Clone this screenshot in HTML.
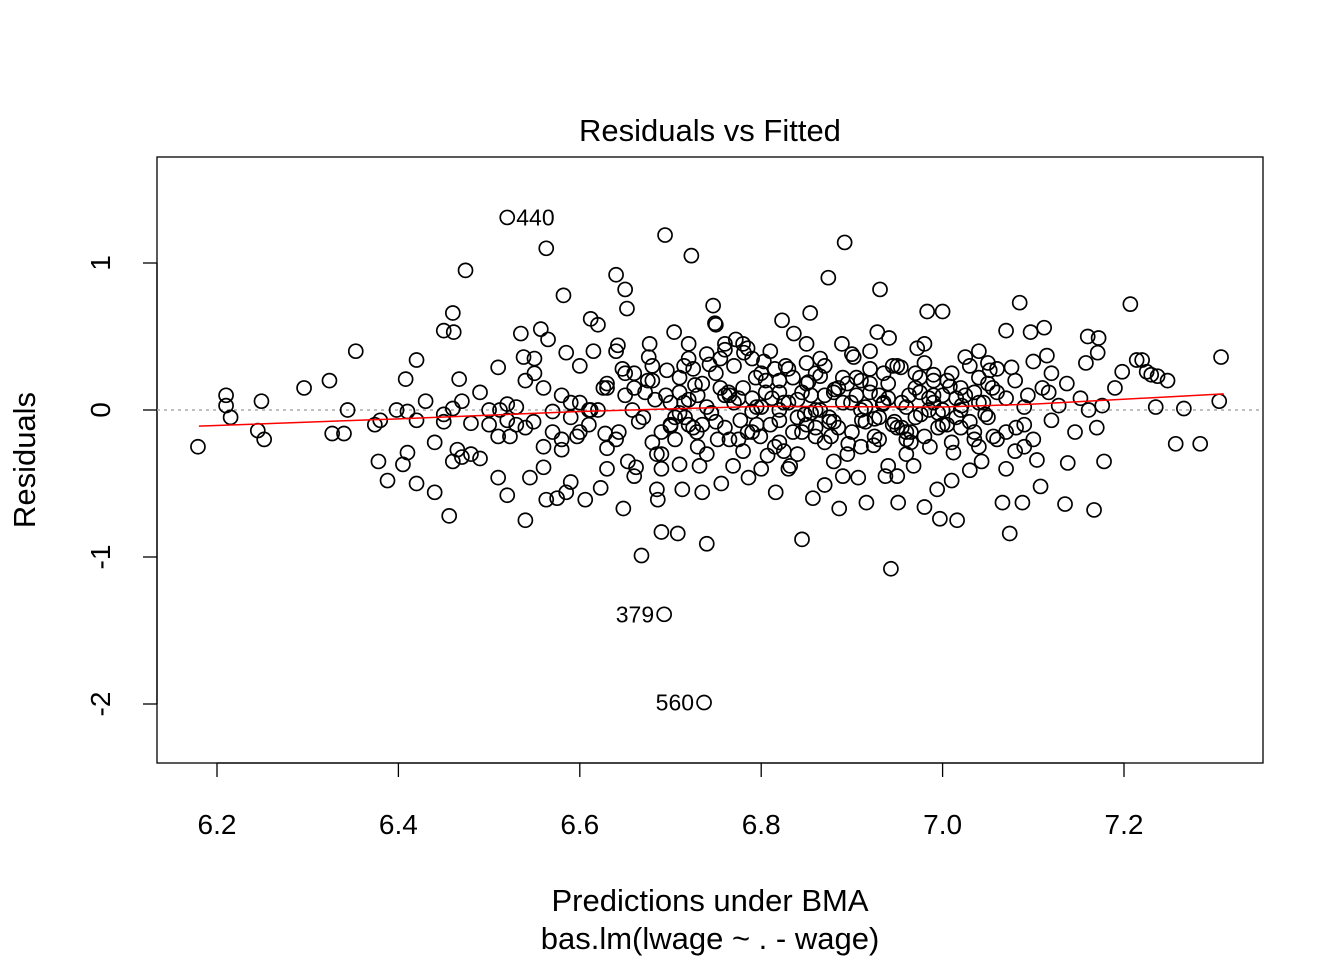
<!DOCTYPE html>
<html><head><meta charset="utf-8"><style>
html,body{margin:0;padding:0;background:#fff;}
svg{display:block;font-family:"Liberation Sans",Arial,sans-serif;}
</style></head><body>
<svg id="chart" width="1344" height="960" viewBox="0 0 1344 960">
<text x="710" y="141" font-size="31" text-anchor="middle">Residuals vs Fitted</text>
<rect x="157" y="157" width="1106" height="606" fill="none" stroke="#000" stroke-width="1.3"/>
<g id="xaxis"></g>
<g id="yaxis"></g>
<line x1="157" x2="1263" y1="410" y2="410" stroke="#aaa" stroke-width="1.5" stroke-dasharray="3,4"/>
<g id="pts"></g>
<polyline id="smooth" fill="none" stroke="#f00" stroke-width="1.5"/>
<g id="labels"></g>
<text x="710" y="911" font-size="31" text-anchor="middle">Predictions under BMA</text>
<text x="710" y="949" font-size="31" text-anchor="middle">bas.lm(lwage ~ . - wage)</text>
<text transform="translate(35,460) rotate(-90)" font-size="31" text-anchor="middle">Residuals</text>
</svg>
<script>
const xTicks=[6.2,6.4,6.6,6.8,7.0,7.2];
const xTickLabels=["6.2","6.4","6.6","6.8","7.0","7.2"];
const yTicks=[-2,-1,0,1];
const yTickLabels=["-2","-1","0","1"];
const fittedX=[6.179,6.21,6.21,6.215,6.249,6.245,6.252,6.296,6.324,6.327,6.34,6.344,6.353,6.374,6.378,6.38,6.388,6.398,6.405,6.408,6.41,6.41,6.42,6.42,6.42,6.43,6.44,6.44,6.45,6.45,6.45,6.456,6.46,6.46,6.46,6.461,6.465,6.467,6.47,6.474,6.48,6.49,6.49,6.51,6.512,6.51,6.51,6.52,6.52,6.52,6.52,6.523,6.535,6.538,6.54,6.54,6.545,6.549,6.557,6.56,6.56,6.563,6.563,6.565,6.57,6.575,6.58,6.582,6.585,6.585,6.59,6.59,6.597,6.6,6.606,6.612,6.612,6.615,6.62,6.623,6.626,6.628,6.63,6.64,6.642,6.643,6.647,6.648,6.65,6.652,6.653,6.658,6.66,6.662,6.668,6.672,6.676,6.677,6.68,6.683,6.685,6.686,6.69,6.69,6.693,6.694,6.696,6.7,6.704,6.708,6.71,6.713,6.716,6.72,6.723,6.727,6.729,6.732,6.735,6.737,6.74,6.743,6.747,6.749,6.752,6.756,6.76,6.764,6.769,6.772,6.777,6.781,6.786,6.79,6.794,6.799,6.803,6.807,6.812,6.816,6.82,6.823,6.827,6.832,6.836,6.84,6.845,6.848,6.852,6.854,6.857,6.86,6.865,6.87,6.874,6.877,6.881,6.886,6.889,6.892,6.896,6.899,6.902,6.907,6.911,6.916,6.92,6.924,6.928,6.931,6.934,6.937,6.941,6.943,6.947,6.951,6.954,6.96,6.963,6.968,6.972,6.976,6.98,6.983,6.986,6.99,6.994,6.997,7.0,7.005,7.008,7.012,7.016,7.021,7.025,7.03,7.035,7.04,7.043,7.047,7.052,7.056,7.06,7.066,7.07,7.074,7.076,7.081,7.085,7.088,7.09,7.094,7.097,7.1,7.104,7.108,7.112,7.115,7.117,7.12,7.128,7.135,7.137,7.138,7.146,7.152,7.158,7.16,7.161,7.167,7.17,7.171,7.172,7.176,7.178,7.19,7.198,7.207,7.214,7.22,7.225,7.23,7.235,7.237,7.248,7.257,7.266,7.284,7.305,7.307,
6.66,6.67,6.68,6.69,6.70,6.70,6.71,6.71,6.72,6.72,6.73,6.73,6.74,6.74,6.75,6.75,6.76,6.76,6.77,6.77,6.78,6.78,6.79,6.79,6.80,6.80,6.81,6.81,6.82,6.82,6.83,6.83,6.84,6.84,6.85,6.85,6.86,6.86,6.87,6.87,6.88,6.88,6.89,6.89,6.90,6.90,6.91,6.91,6.92,6.92,6.93,6.93,6.94,6.94,6.95,6.95,6.96,6.96,6.97,6.97,6.98,6.98,6.99,6.99,7.00,7.00,7.01,7.01,7.02,7.02,7.03,7.03,7.04,7.04,7.05,7.05,7.06,7.07,7.07,7.08,7.08,7.09,7.10,7.11,7.12,6.62,6.63,6.64,6.65,6.60,6.61,6.58,6.57,6.55,6.54,6.53,6.50,6.48,6.47,6.50,6.56,6.59,6.63,6.66,6.69,6.72,6.75,6.78,6.80,6.83,6.86,6.89,6.92,6.95,6.98,7.01,7.04,7.07,6.76,6.79,6.82,6.85,6.88,6.91,6.94,6.97,7.00,6.74,6.71,6.68,6.65,6.82,6.85,6.87,6.93,6.96,6.99,7.02,7.05,7.09,
6.665,6.675,6.685,6.695,6.705,6.715,6.725,6.735,6.745,6.755,6.765,6.775,6.785,6.795,6.805,6.815,6.825,6.835,6.845,6.855,6.865,6.875,6.885,6.895,6.905,6.915,6.925,6.935,6.945,6.955,6.965,6.975,6.985,6.995,7.005,7.015,7.025,7.035,7.045,7.055,6.705,6.725,6.745,6.765,6.785,6.805,6.825,6.845,6.865,6.885,6.905,6.925,6.945,6.965,6.985,6.715,6.735,6.755,6.775,6.795,6.815,6.835,6.855,6.875,6.895,6.915,6.935,6.955,6.975,6.995,6.64,6.63,6.61,6.60,6.58,6.55,6.53,7.015,7.035,7.06];
const residualY=[-0.25,0.10,0.03,-0.05,0.06,-0.14,-0.20,0.15,0.20,-0.16,-0.16,0.0,0.40,-0.10,-0.35,-0.07,-0.48,0,-0.37,0.21,-0.29,-0.01,0.34,-0.07,-0.50,0.06,-0.56,-0.22,0.54,-0.03,-0.08,-0.72,0.66,0.01,-0.35,0.53,-0.27,0.21,0.06,0.95,-0.09,-0.33,0.12,0.29,0,-0.18,-0.46,-0.58,1.31,0.04,-0.07,-0.18,0.52,0.36,0.20,-0.75,-0.46,-0.08,0.55,-0.39,0.15,1.10,-0.61,0.48,-0.01,-0.60,-0.27,0.78,0.39,-0.56,0.05,-0.49,-0.18,-0.15,-0.61,0.62,0,0.40,0.58,-0.53,0.15,-0.16,-0.26,0.92,0.44,-0.15,0.28,-0.67,0.82,0.69,-0.35,0,0.25,-0.39,-0.99,0.12,0.36,0.45,0.20,0.07,-0.54,-0.61,-0.83,-0.30,-1.39,1.19,0.27,-0.11,0.53,-0.84,-0.37,-0.54,-0.05,0.07,1.05,0.17,-0.15,-0.38,-0.56,-1.99,-0.91,0.31,0.71,0.59,-0.20,-0.50,0.41,0.12,-0.38,0.48,-0.07,0.39,-0.46,-0.01,0.22,-0.18,0.33,-0.31,0.08,-0.56,-0.07,0.61,0.30,-0.38,0.52,0.07,-0.88,-0.03,0.19,0.66,-0.60,-0.12,0.23,-0.51,0.90,-0.18,0.14,-0.67,0.45,1.14,-0.23,0.05,0.36,-0.46,-0.07,-0.63,0.18,-0.24,0.53,0.82,0.04,-0.45,0.49,-1.08,-0.08,-0.63,0.29,-0.20,0.10,-0.38,0.42,-0.03,-0.66,0.67,-0.25,0.24,-0.54,-0.74,0.67,-0.10,0.16,-0.29,-0.75,0.03,0.36,-0.41,-0.15,0.22,-0.35,-0.03,0.27,-0.18,0.12,-0.63,0.54,-0.84,0.29,-0.12,0.73,-0.63,-0.25,0.10,0.53,0.33,-0.34,-0.52,0.56,0.37,0.12,-0.07,0.03,-0.64,0.18,-0.36,-0.15,0.08,0.32,0.50,0,-0.68,-0.12,0.39,0.49,0.03,-0.35,0.15,0.26,0.72,0.34,0.34,0.26,0.24,0.02,0.23,0.20,-0.23,0.01,-0.23,0.06,0.36,
0.15,-0.05,0.30,-0.15,0.05,-0.10,0.22,-0.02,-0.10,0.35,0.10,-0.25,0.02,0.38,-0.08,0.25,0.45,-0.12,0.05,0.30,-0.28,0.15,0.08,-0.15,0.25,0.02,-0.10,0.40,0.12,-0.22,0.05,0.28,-0.05,-0.30,0.18,0.45,0.00,-0.18,0.10,0.30,-0.08,-0.35,0.22,0.05,-0.15,0.38,0.00,-0.25,0.12,0.28,-0.05,-0.20,0.08,0.18,-0.12,0.30,0.02,-0.30,0.15,-0.05,0.32,-0.18,0.05,0.20,-0.10,0.10,0.25,-0.22,0.00,0.15,-0.08,0.30,0.05,-0.25,0.18,-0.05,0.28,-0.15,0.08,0.20,-0.28,0.02,-0.20,0.15,0.25,0.00,0.15,-0.20,0.10,0.05,-0.10,0.10,-0.15,0.25,-0.12,0.02,-0.10,-0.30,-0.32,0.00,-0.25,-0.05,-0.40,-0.45,-0.40,0.45,0.58,0.45,-0.40,-0.40,0.25,-0.45,0.40,-0.45,0.45,-0.48,0.40,-0.40,0.10,0.35,0.00,-0.10,0.12,0.20,-0.38,0.25,0.00,-0.30,0.12,-0.22,0.25,0.20,0.32,-0.22,0.10,-0.15,0.10,-0.12,0.32,-0.10,
-0.08,0.20,-0.30,0.10,-0.05,0.30,-0.12,0.18,-0.02,0.35,-0.20,0.08,0.42,-0.10,0.12,-0.25,0.05,0.22,-0.15,-0.02,0.35,-0.08,0.15,-0.30,0.10,0.02,-0.18,0.25,-0.10,0.05,-0.22,0.12,0.00,-0.12,0.20,-0.05,0.10,-0.20,0.05,0.15,-0.20,0.28,-0.02,0.10,-0.15,0.20,-0.28,0.12,0.00,-0.12,0.22,-0.06,0.30,-0.15,0.08,0.05,-0.10,0.15,-0.20,0.02,0.28,-0.15,0.10,-0.05,0.18,-0.08,0.05,-0.12,0.22,-0.02,0.40,0.18,0.00,0.30,-0.20,0.35,-0.10,0.08,0.12,-0.20];
const smoothX=[6.18,6.4,6.6,6.8,7.0,7.1,7.31];
const smoothY=[-0.11,-0.06,-0.01,0.025,0.02,0.04,0.11];
const outlierIds=["440","379","560"];
const outlierX=[6.52,6.693,6.737];
const outlierY=[1.31,-1.39,-1.99];

const NS="http://www.w3.org/2000/svg";
const sx=v=>217+(v-6.2)*907;
const sy=v=>410-v*147;
function mk(tag,attrs,parent){const e=document.createElementNS(NS,tag);for(const k in attrs)e.setAttribute(k,attrs[k]);parent.appendChild(e);return e;}
const xa=document.getElementById('xaxis');
mk('line',{x1:sx(xTicks[0]),x2:sx(xTicks[xTicks.length-1]),y1:763,y2:763,stroke:'#000','stroke-width':1.3},xa);
xTicks.forEach((t,i)=>{
 const l=mk('line',{x1:sx(t),x2:sx(t),y1:763,y2:777,stroke:'#000','stroke-width':1.3},xa);
 
 
 const tx=mk('text',{x:sx(t),y:834,'font-size':28,'text-anchor':'middle'},xa);
 tx.textContent=xTickLabels[i];
 
 
});
const ya=document.getElementById('yaxis');
mk('line',{x1:157,x2:157,y1:sy(yTicks[0]),y2:sy(yTicks[yTicks.length-1]),stroke:'#000','stroke-width':1.3},ya);
yTicks.forEach((t,i)=>{
 const l=mk('line',{x1:143,x2:157,y1:sy(t),y2:sy(t),stroke:'#000','stroke-width':1.3},ya);
 
 
 const tx=mk('text',{transform:`translate(110,${sy(t)}) rotate(-90)`,'font-size':28,'text-anchor':'middle'},ya);
 tx.textContent=yTickLabels[i];
 
 
});
const pg=document.getElementById('pts');
for(let i=0;i<fittedX.length;i++){
 const c=mk('circle',{cx:sx(fittedX[i]),cy:sy(residualY[i]),r:7,fill:'none',stroke:'#000','stroke-width':1.7},pg);
 
 
}
document.getElementById('smooth').setAttribute('points',smoothX.map((x,i)=>sx(x)+','+sy(smoothY[i])).join(' '));
const lg=document.getElementById('labels');
outlierIds.forEach((id,i)=>{
 const left=i===0;
 const tx=mk('text',{x:left?sx(outlierX[i])+9:sx(outlierX[i])-10,y:sy(outlierY[i])+8,'font-size':23,'text-anchor':left?'start':'end'},lg);
 tx.textContent=id;
 
 
});
</script>
</body></html>
